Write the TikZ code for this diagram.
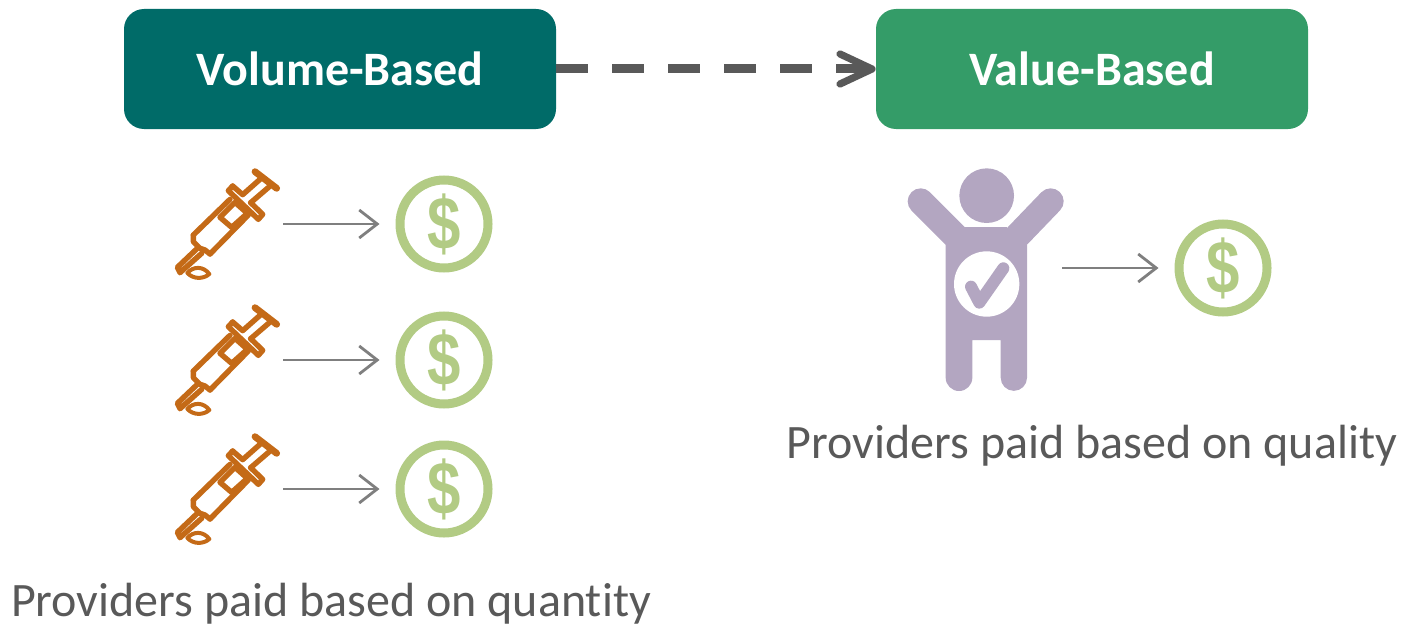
\documentclass[tikz,border=0pt]{standalone}
\usepackage{fontspec}
\setmainfont[Ligatures=NoCommon]{Carlito}
\newfontfamily\coinfont{Liberation Sans}
\usetikzlibrary{arrows.meta}
\definecolor{tealbox}{HTML}{006B68}
\definecolor{greenbox}{HTML}{349C68}
\definecolor{dashgray}{HTML}{595959}
\definecolor{thingray}{HTML}{7F7F7F}
\definecolor{orangesy}{HTML}{C46A17}
\definecolor{coin}{HTML}{B2CB84}
\definecolor{lav}{HTML}{B3A6C1}
\definecolor{cap}{HTML}{595959}
\newcommand{\coinsign}{\scalebox{0.8}[1]{\$}}
\tikzset{
  headbox/.style={rounded corners=10pt,minimum width=216pt,minimum height=60pt,text=white,font=\fontsize{24}{26}\selectfont\bfseries,inner sep=0pt},
  coinnode/.style={circle,draw=coin,line width=4.5pt,minimum size=44pt,inner sep=0pt,text=coin,font=\coinfont\fontsize{37.5}{38}\selectfont\bfseries},
  thin arrow/.style={draw=thingray,line width=1.4pt,-{Straight Barb[length=9pt,width=14pt,line width=1.4pt]},shorten >=8pt},
  big arrow/.style={draw=dashgray,line width=4.5pt,dash pattern=on 16pt off 12pt,-{Straight Barb[length=16pt,width=15pt,line width=3.6pt,round]}},
  captext/.style={text=cap,font=\fontsize{24}{26}\selectfont,inner sep=0pt},
  syringe/.pic={
    \begin{scope}[x=0.16667pt,y=-0.16667pt,draw=orangesy,line width=2.7pt,line join=round,line cap=round]
      \draw (100,225)--(210,118);
      \draw (150,282)--(265,165);
      \draw (100,225)--(100,245)--(120,265)--(135,270)--(150,282);
      \draw (112,265)--(52,322)--(60,338)--(125,280);
      \draw[line width=2pt] (82,339) .. controls (100,318) and (130,318) .. (148,342) .. controls (130,358) and (100,358) .. (82,339) -- cycle;
      \draw (180,172)--(225,127)--(262,160)--(215,202)--cycle;
      \draw (218,78)--(205,92)--(295,178)--(308,163)--(272,128);
      \draw (218,78)--(248,104)--(300,58);
      \draw (272,128)--(328,80);
      \draw[line width=3.4pt] (285,35)--(350,85);
    \end{scope}
  },
}
\begin{document}
\begin{tikzpicture}[x=0.5pt,y=-0.5pt]
\useasboundingbox (0,0) rectangle (1406,626);
\node[headbox,fill=tealbox] (vol) at (340,69) {Volume-Based};
\node[headbox,fill=greenbox] (val) at (1092,69) {Value-Based};
\draw[big arrow] (vol.east) -- (val.west);

\foreach \n/\yy in {1/224,2/360,3/489}{
  \pgfmathsetmacro{\off}{\yy-224}
  \pic at (160,160+\off) {syringe};
  \coordinate (s\n) at (283,\yy);
  \node[coinnode] (d\n) at (444,\yy) {\coinsign};
  \draw[thin arrow] (s\n) -- (d\n.west);
}

\begin{scope}[shift={(890,160)},x=0.16667pt,y=-0.16667pt]
  \fill[lav] (290,107) circle[radius=82];
  \draw[lav,line width=13pt,line cap=round] (92,124)--(196,228);
  \draw[lav,line width=13pt,line cap=round] (482,124)--(382,228);
  \fill[lav] (225,201)--(350,201)--(411,255)--(411,653) arc[start angle=0,end angle=180,radius=39.5] -- (332,540)--(247,540)--(247,653) arc[start angle=0,end angle=180,radius=40] -- (167,255)--cycle;
  \fill[white] (290,372) circle[radius=98];
  \draw[lav,line width=6pt,line cap=round,line join=round] (243,380)--(268,428)--(340,325);
\end{scope}
\coordinate (p1) at (1062,268);
\node[coinnode] (d4) at (1223,268) {\coinsign};
\draw[thin arrow] (p1) -- (d4.west);

\node[captext] (capb) at (1092,446) {Providers paid based on quality};
\node[captext] (capa) at (331,604) {Providers paid based on quantity};
\end{tikzpicture}
\end{document}
